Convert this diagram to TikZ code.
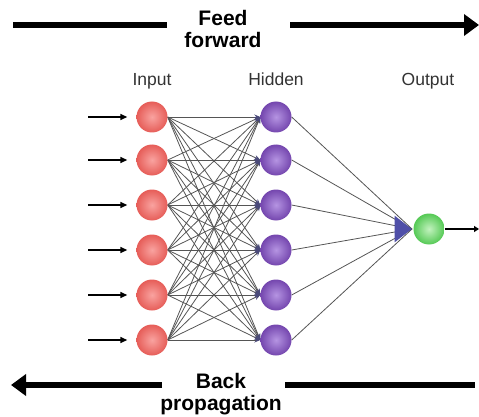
\documentclass[tikz,border=0pt]{standalone}
\usepackage{fontspec}
\setmainfont{Liberation Sans}
\usetikzlibrary{arrows.meta,shapes.geometric,backgrounds}

\definecolor{redin}{HTML}{F9A3A0}
\definecolor{redout}{HTML}{E65D58}
\definecolor{purin}{HTML}{B594E2}
\definecolor{purout}{HTML}{7446AE}
\definecolor{grnin}{HTML}{C2F2BE}
\definecolor{grnout}{HTML}{55C955}
\definecolor{tipblue}{HTML}{4F4FA8}
\definecolor{wire}{HTML}{555555}
\definecolor{wiretip}{HTML}{4A4A7A}
\definecolor{labelgray}{HTML}{333333}

\tikzset{
  neuron/.style={circle, minimum size=31pt, inner sep=0pt, shading=radial},
  inneuron/.style={neuron, inner color=redin, outer color=redout},
  hidneuron/.style={neuron, inner color=purin, outer color=purout},
  outneuron/.style={neuron, inner color=grnin, outer color=grnout},
  wireline/.style={draw=wire, line width=0.8pt},
  wirearrow/.style={wireline, -{Stealth[length=6pt,width=5pt,color=wiretip]}},
  feedarrow/.style={draw=black, line width=1.4pt, shorten >=9pt,
    -{Triangle[length=7pt,width=6pt]}},
  bigline/.style={line width=5.5pt},
  bigarrow/.style={bigline, -{Triangle[length=15pt,width=21pt]}},
  layerlabel/.style={inner sep=0pt, anchor=north, text=labelgray,
    font=\fontsize{17.5}{20}\selectfont},
  flowlabel/.style={inner sep=0pt, anchor=north, align=center,
    font=\bfseries\fontsize{21}{22}\selectfont}
}

\begin{document}
\begin{tikzpicture}[x=1pt, y=-1pt]
  \useasboundingbox (0,0) rectangle (479,417);

  % layer titles
  \node[layerlabel] (lin)  at (152,73) {Input};
  \node[layerlabel] (lhid) at (276,73) {Hidden};
  \node[layerlabel] (lout) at (428,73) {Output};

  % feed forward / back propagation banners
  \node[flowlabel] (ff) at (223,10) {Feed\\forward};
  \coordinate (ffa) at (13,25);
  \coordinate (ffb) at (167,25);
  \coordinate (ffc) at (290,25);
  \coordinate (ffd) at (479,25);
  \draw[bigline] (ffa) -- (ffb);
  \draw[bigarrow] (ffc) -- (ffd);

  \node[flowlabel] (bp) at (221,373) {Back\\propagation};
  \coordinate (bpa) at (162,385);
  \coordinate (bpb) at (11,385);
  \coordinate (bpc) at (285,385);
  \coordinate (bpd) at (475,385);
  \draw[bigarrow] (bpa) -- (bpb);
  \draw[bigline] (bpc) -- (bpd);

  % neurons
  \foreach \i/\y in {1/117,2/160,3/205,4/250,5/295,6/340} {
    \node[inneuron]  (i\i) at (152,\y) {};
    \node[hidneuron] (h\i) at (276,\y) {};
    \coordinate (s\i) at (88,\y);
    \draw[feedarrow] (s\i) -- (i\i.west);
  }
  \node[outneuron] (o) at (429,229) {};
  \node[isosceles triangle, isosceles triangle apex angle=76, fill=tipblue,
        minimum height=17pt, inner sep=0pt, anchor=apex] (tri) at (412,229) {};
  \coordinate (oend) at (479,229);
  \draw[draw=black, line width=1.4pt, -{Triangle[length=5pt,width=6pt]}] (o.east) -- (oend);

  % weights, drawn beneath the neurons
  \begin{scope}[on background layer]
    \foreach \a in {1,...,6}
      \foreach \b in {1,...,6}
        \draw[wirearrow] (i\a.east) -- (h\b.west);
    \foreach \b in {1,...,6}
      \draw[wireline] (h\b.east) -- (tri.apex);
  \end{scope}
\end{tikzpicture}
\end{document}
